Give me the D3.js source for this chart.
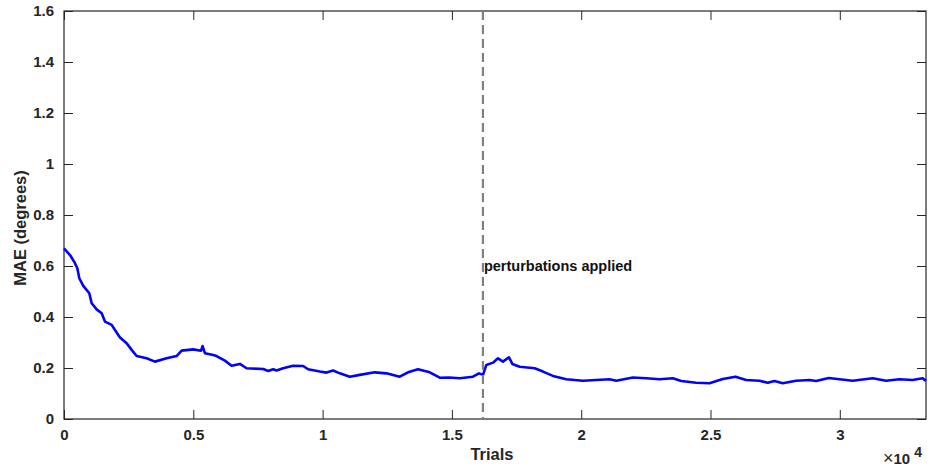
<!DOCTYPE html>
<html>
<head>
<meta charset="utf-8">
<script src="https://cdn.jsdelivr.net/npm/d3@7"></script>
<style>
  body { margin: 0; background: #fff; }
  svg text { font-family: "Liberation Sans", Arial, sans-serif; font-weight: bold; fill: #262626; }
  .axis path, .axis line { stroke: #262626; }
</style>
</head>
<body>
<div class="container"></div>
<script>
const WIDTH = 930,
    HEIGHT = 472,
    LEFT = 64, RIGHT = 4, TOP = 11, BOTTOM = 53,
    INNER_WIDTH = WIDTH - LEFT - RIGHT,
    INNER_HEIGHT = HEIGHT - TOP - BOTTOM;

// trial number and mean absolute error (degrees)
var trials = [0, 232, 425, 515, 592, 746, 978, 1070, 1263, 1457, 1584, 1843, 1971, 2164, 2423, 2616, 2809,
    3195, 3516, 3968, 4355, 4548, 4996, 5300, 5359, 5448, 5770, 5900, 6221, 6480, 6800, 7060, 7702, 7895, 8088,
    8218, 8474, 8860, 9247, 9440, 9892, 10150, 10406, 10665, 11051, 11437, 12017, 12468, 12983, 13304, 13690,
    14142, 14529, 14888, 15301, 15815, 16047, 16202, 16332, 16589, 16782, 16975, 17207, 17338, 17620, 18199,
    18521, 18907, 19424, 20066, 20583, 21097, 21356, 21998, 22515, 23029, 23543, 23868, 24447, 24961, 25475,
    25966, 26380, 26894, 27214, 27473, 27793, 28311, 28825, 29083, 29571, 29985, 30499, 31272, 31789, 32303,
    32817, 33204, 33333];
var mae = [0.669, 0.643, 0.611, 0.591, 0.552, 0.522, 0.493, 0.454, 0.430, 0.415, 0.382, 0.369, 0.349, 0.320,
    0.297, 0.271, 0.247, 0.238, 0.225, 0.238, 0.247, 0.268, 0.273, 0.268, 0.286, 0.258, 0.251, 0.247, 0.229,
    0.209, 0.216, 0.199, 0.196, 0.188, 0.195, 0.190, 0.199, 0.209, 0.208, 0.195, 0.186, 0.182, 0.190, 0.179,
    0.166, 0.173, 0.183, 0.179, 0.166, 0.183, 0.195, 0.183, 0.162, 0.163, 0.160, 0.166, 0.179, 0.173, 0.212,
    0.221, 0.238, 0.225, 0.242, 0.216, 0.205, 0.199, 0.186, 0.169, 0.156, 0.150, 0.153, 0.156, 0.150, 0.163,
    0.160, 0.156, 0.160, 0.149, 0.142, 0.140, 0.157, 0.166, 0.153, 0.150, 0.142, 0.149, 0.140, 0.150, 0.153,
    0.149, 0.161, 0.156, 0.150, 0.160, 0.150, 0.156, 0.153, 0.160, 0.149];
var xTicks = [0, 5000, 10000, 15000, 20000, 25000, 30000];
var yTicks = [0, 0.2, 0.4, 0.6, 0.8, 1, 1.2, 1.4, 1.6];
var perturbAt = 16200;
var perturbLabel = 'perturbations applied';

var translate = (x, y) => "translate(" + x + "," + y + ")";

var svg = d3.select('.container').append('svg')
    .attr('width', WIDTH)
    .attr('height', HEIGHT);

var xScale = d3.scaleLinear().domain([0, 33333]).range([0, INNER_WIDTH]);
var yScale = d3.scaleLinear().domain([0, 1.6]).range([INNER_HEIGHT, 0]);

var g = svg.append('g').attr('transform', translate(LEFT, TOP));

// box + inward ticks on all four sides
g.append('rect')
    .attr('width', INNER_WIDTH).attr('height', INNER_HEIGHT)
    .attr('fill', 'none').attr('stroke', '#262626').attr('stroke-width', 1.2);

var xAxis = g.append('g').classed('axis', true)
    .attr('transform', translate(0, INNER_HEIGHT))
    .call(d3.axisBottom(xScale).tickValues(xTicks).tickSizeInner(-9).tickSizeOuter(0).tickPadding(10)
        .tickFormat(d => d3.format('~g')(d / 1e4)));
xAxis.selectAll('text').attr('font-size', 15);
xAxis.select('.domain').remove();

g.append('g').classed('axis', true)
    .call(d3.axisTop(xScale).tickValues(xTicks).tickSizeInner(-9).tickSizeOuter(0).tickFormat(''))
    .select('.domain').remove();

var yAxis = g.append('g').classed('axis', true)
    .call(d3.axisLeft(yScale).tickValues(yTicks).tickSizeInner(-9).tickSizeOuter(0).tickPadding(10)
        .tickFormat(d3.format('~g')));
yAxis.selectAll('text').attr('font-size', 15);
yAxis.select('.domain').remove();

g.append('g').classed('axis', true)
    .attr('transform', translate(INNER_WIDTH, 0))
    .call(d3.axisRight(yScale).tickValues(yTicks).tickSizeInner(-9).tickSizeOuter(0).tickFormat(''))
    .select('.domain').remove();

// the curve
var line = d3.line()
    .x((d, i) => xScale(trials[i]))
    .y(d => yScale(d));

g.append('path')
    .attr('d', line(mae))
    .attr('fill', 'none')
    .attr('stroke', '#0000ff')
    .attr('stroke-width', 2.6)
    .attr('stroke-linejoin', 'round');

// perturbation marker
g.append('line')
    .attr('x1', xScale(perturbAt)).attr('x2', xScale(perturbAt))
    .attr('y1', 0).attr('y2', INNER_HEIGHT)
    .attr('stroke', '#808080')
    .attr('stroke-width', 2.2)
    .attr('stroke-dasharray', '9,5');

g.append('text')
    .attr('x', xScale(perturbAt) + 1)
    .attr('y', yScale(0.58))
    .attr('font-size', 14.5)
    .style('fill', '#111')
    .text(perturbLabel);

// axis labels
svg.append('text')
    .attr('x', LEFT + INNER_WIDTH / 2 - 3)
    .attr('y', 460)
    .attr('text-anchor', 'middle')
    .attr('font-size', 16.5)
    .text('Trials');

svg.append('text')
    .attr('transform', translate(26, 228) + ' rotate(-90)')
    .attr('text-anchor', 'middle')
    .attr('font-size', 16.5)
    .text('MAE (degrees)');

var expo = svg.append('text')
    .attr('x', 883)
    .attr('y', 464)
    .style('font-size', '15px');
expo.append('tspan').style('font-weight', 'normal').style('font-size', '18px').text('\u00d7');
expo.append('tspan').text('10');
expo.append('tspan').attr('dx', 4).attr('dy', -7).style('font-size', '14px').text('4');
</script>
</body>
</html>
